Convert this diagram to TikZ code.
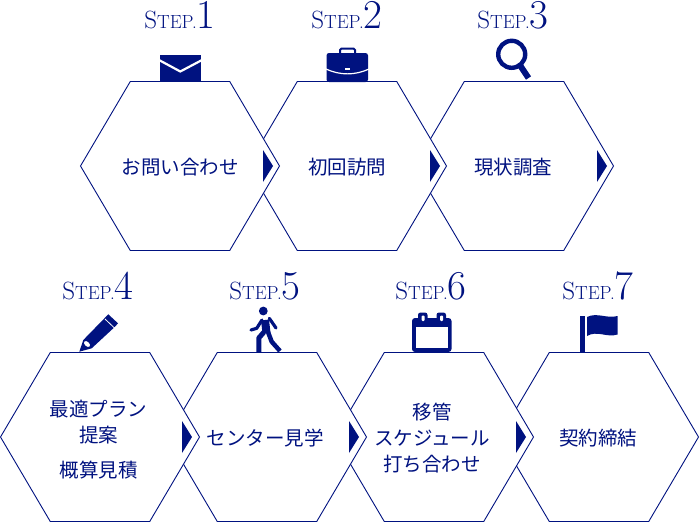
\documentclass[tikz,border=0pt]{standalone}
\usepackage{fontspec}
\usepackage{xcolor}
\usepackage{tikz}
\usetikzlibrary{arrows.meta, positioning, shapes.symbols, calc}
\newfontfamily\jpfont{Noto Sans CJK JP}
\definecolor{stepnavy}{RGB}{0,18,128}
\newcommand{\steplabel}[1]{{\fontsize{25}{25}\selectfont S}{\fontsize{19}{19}\selectfont TEP.}{\fontsize{41}{41}\selectfont #1}}
\tikzset{
  hexbox/.style={signal, signal to=west and east, signal pointer angle=119, draw=stepnavy, fill=white, line width=0.9pt,
    minimum width=199pt, minimum height=169pt, inner sep=0pt, outer sep=0pt},
  hextext/.style={align=center, text=stepnavy, inner sep=0pt, font=\jpfont\fontsize{19.5}{26}\selectfont},
  steptext/.style={anchor=base, text=stepnavy, inner sep=0pt}
}
\begin{document}
\begin{tikzpicture}[x=1pt, y=-1pt]
  \useasboundingbox (0,0) rectangle (700,522);
  % hexagons, last one first so that each lies under the one before it
  \node[hexbox] (sign) at (599,437) {};
  \node[hexbox] (move) at (434,437) {};
  \node[hexbox] (tour) at (267,437) {};
  \node[hexbox] (plan) at (100,437) {};
  \node[hexbox] (survey) at (514,166) {};
  \node[hexbox] (visit) at (347,166) {};
  \node[hexbox] (contact) at (180,166) {};
  \node[hextext] (signtext) at (598,438) {契約締結};
  \node[hextext] (movetext) at (432,438) {移管\\スケジュール\\打ち合わせ};
  \node[hextext] (tourtext) at (265,438) {センター見学};
  \node[hextext] (plantext) at (98.5,440) {最適プラン\\提案\\[9pt]概算見積};
  \node[hextext] (surveytext) at (513,167) {現状調査};
  \node[hextext] (visittext) at (347,167) {初回訪問};
  \node[hextext] (contacttext) at (180,167) {お問い合わせ};
  % step titles
  \node[steptext] (s1) at (180,28) {\steplabel{1}};
  \node[steptext] (s2) at (347,28) {\steplabel{2}};
  \node[steptext] (s3) at (513,28) {\steplabel{3}};
  \node[steptext] (s4) at (98,299) {\steplabel{4}};
  \node[steptext] (s5) at (265,299) {\steplabel{5}};
  \node[steptext] (s6) at (431,299) {\steplabel{6}};
  \node[steptext] (s7) at (598,299) {\steplabel{7}};
  % small triangles at the right corners
  \foreach \n in {contact,visit,survey}
    \fill[stepnavy] ($(\n.east)+(-16.5,-16)$) -- ($(\n.east)+(-6.5,0)$) -- ($(\n.east)+(-16.5,16)$) -- cycle;
  \foreach \n in {plan,tour,move}
    \fill[stepnavy] ($(\n.east)+(-17.5,-16)$) -- ($(\n.east)+(-7.5,0)$) -- ($(\n.east)+(-17.5,16)$) -- cycle;
  % envelope
  \fill[stepnavy] (159.5,55) rectangle (201,81);
  \draw[white, line width=2.2pt] (158,59.5) -- (180.3,71.5) -- (203,59.5);
  % briefcase
  \draw[stepnavy, line width=2pt, rounded corners=1.5pt] (340,54) -- (340,48.5) -- (355,48.5) -- (355,54);
  \fill[stepnavy, rounded corners=2.5pt] (326.5,53) rectangle (368,82);
  \draw[white, line width=1.2pt] (326,69) .. controls (340,75.5) and (355,75.5) .. (369,69);
  \fill[white] (345,67.5) rectangle (350,70);
  % magnifier
  \draw[stepnavy, line width=4.4pt] (511.7,54.3) circle (13.5);
  \draw[stepnavy, line width=6pt] (520.5,66) -- (528.5,78);
  % pencil
  \fill[stepnavy] (79.3,351.7) -- (83.3,340) -- (106,316.7) -- (108.3,314.3) -- (118,323.3) -- (115,326.7) -- (91.7,348.3) -- cycle;
  \draw[white, line width=0.8pt] (105,319) -- (115,328.5);
  \fill[white, rotate around={-43:(87,344)}] (87,344) ellipse (3.6 and 2.2);
  % walker
  \fill[stepnavy] (263.3,311) circle (4.4);
  \draw[stepnavy, line width=8pt] (265,320) -- (266.5,333);
  \draw[stepnavy, line width=3.2pt, line join=round, line cap=round] (262,320) -- (256.7,328.3) -- (251,330);
  \draw[stepnavy, line width=3.2pt, line join=round, line cap=round] (269.3,318.3) -- (276,328);
  \draw[stepnavy, line width=5pt, line join=round] (264,332) -- (258.8,338) -- (258.8,352);
  \draw[stepnavy, line width=4.5pt, line join=round] (268,332) -- (271.7,341.7) -- (280,351);
  % calendar
  \fill[stepnavy, rounded corners=3pt] (412,318) rectangle (451.5,352);
  \fill[white] (416,327) rectangle (447.7,348.3);
  \fill[stepnavy, rounded corners=2.5pt] (418,312.5) rectangle (427.5,323);
  \fill[stepnavy, rounded corners=2.5pt] (436.5,312.5) rectangle (446,323);
  \fill[white, rounded corners=1pt] (421.5,315.5) rectangle (424.5,321);
  \fill[white, rounded corners=1pt] (440,315.5) rectangle (443,321);
  % flag
  \fill[stepnavy] (580,315.7) rectangle (585,352);
  \fill[stepnavy] (587,317) .. controls (597,312) and (607,319) .. (617.5,316) -- (617.5,334.5) .. controls (607,338) and (597,330) .. (587,336) -- cycle;
\end{tikzpicture}
\end{document}
